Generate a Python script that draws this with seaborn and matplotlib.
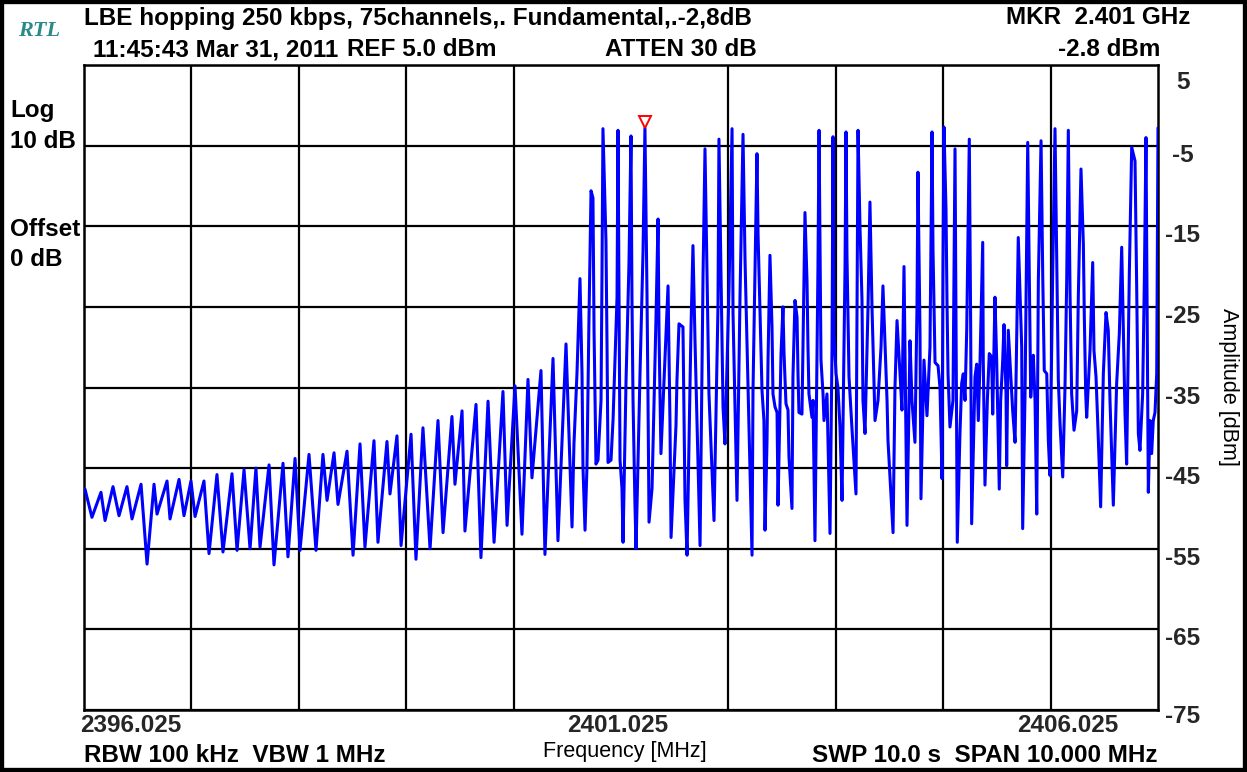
import numpy as np
import pandas as pd
import matplotlib
matplotlib.use("Agg")
import matplotlib.pyplot as plt
import matplotlib.transforms as mtransforms
from matplotlib.ticker import MultipleLocator
from matplotlib.patches import Rectangle
import seaborn as sns

# ---------------- data ----------------
START_MHZ = 2396.025
CENTER_MHZ = 2401.025
STOP_MHZ = 2406.025

# trace, low part of the span (offset from start in kHz, level in dBm)
low_khz = [
    0, 9, 74, 158, 196, 270, 326, 400, 447, 531,
    587, 652, 680, 773, 801, 885, 931, 996, 1034, 1117,
    1164, 1238, 1294, 1378, 1425, 1490, 1546, 1601, 1639, 1723,
    1769, 1853, 1899, 1965, 2011, 2095, 2160, 2225, 2263, 2328,
    2365, 2449, 2505, 2570, 2616, 2700, 2737, 2821, 2849, 2914,
    2952, 3045, 3091, 3156, 3222, 3296, 3343, 3426, 3454, 3520,
    3547, 3650, 3696, 3762, 3818, 3901, 3939, 4013, 4078, 4134,
    4171, 4255, 4292, 4367, 4413, 4488,
]
low_dbm = [
    -47.8, -47.6, -51.1, -48.0, -51.5, -47.3, -50.9, -47.3, -51.3, -47.0,
    -56.9, -47.0, -50.7, -46.6, -51.3, -46.4, -50.9, -46.6, -51.0, -46.6,
    -55.6, -45.8, -55.4, -45.7, -55.2, -45.2, -55.0, -45.0, -54.8, -44.6,
    -57.0, -44.4, -56.0, -43.8, -55.2, -43.3, -55.2, -43.3, -49.0, -43.1,
    -49.5, -42.9, -55.8, -42.0, -54.8, -41.6, -54.2, -41.7, -48.2, -41.0,
    -54.6, -40.8, -56.3, -40.0, -55.0, -39.1, -53.0, -38.6, -47.0, -37.9,
    -52.8, -37.1, -56.1, -36.7, -54.2, -35.5, -52.1, -34.8, -53.2, -34.0,
    -46.2, -32.9, -55.7, -31.4, -54.0, -29.6,
]

# trace, middle part of the span
mid_khz = [
    4544, 4562, 4590, 4618, 4637, 4646, 4665, 4683, 4702, 4721,
    4739, 4749, 4767, 4786, 4814, 4823, 4832, 4860, 4870, 4879,
    4907, 4926, 4963, 4972, 4991, 5009, 5019, 5047, 5074, 5093,
    5102, 5112, 5130, 5140, 5177, 5205, 5223, 5242, 5251, 5261,
    5289, 5326, 5345, 5354, 5372, 5410, 5438, 5456, 5466, 5512,
    5521, 5540, 5577, 5596, 5615, 5652, 5670, 5689, 5736, 5764,
    5782, 5819, 5866, 5903, 5912, 5950, 5968, 6006, 6034, 6043,
    6080, 6108, 6136, 6155, 6183, 6220, 6229, 6266, 6276, 6313,
    6331, 6341, 6359, 6369, 6387, 6406, 6415, 6434, 6453, 6462,
    6490, 6508, 6518, 6536, 6555, 6564, 6592, 6601, 6620, 6639,
    6648, 6657, 6685, 6713, 6732, 6741, 6750, 6778, 6788, 6806,
    6834, 6844, 6853, 6862, 6881, 6890, 6918, 6946, 6965, 6974,
    6983, 7002, 7020, 7039, 7058, 7086, 7095, 7104, 7123, 7151,
    7188, 7207, 7225, 7244, 7253, 7272, 7300, 7318, 7337, 7365,
    7393, 7421, 7439, 7458, 7477, 7486, 7533, 7551, 7570, 7598,
    7616, 7635, 7663, 7682, 7691, 7709, 7737, 7756, 7765, 7784,
    7793, 7821, 7849, 7877, 7896, 7905, 7924, 7952, 7970, 7989,
    7998, 8007, 8026, 8035, 8045, 8063, 8091, 8110, 8131,
]
mid_dbm = [
    -52.3, -42.0, -33.3, -21.5, -33.3, -44.9, -52.7, -44.9, -26.3, -10.6,
    -11.5, -27.9, -44.5, -44.0, -36.6, -21.0, -2.9, -16.8, -30.0, -44.3,
    -44.0, -39.0, -23.8, -3.1, -44.0, -47.5, -54.2, -34.1, -19.8, -3.8,
    -23.8, -36.6, -49.5, -55.0, -33.3, -18.2, -2.8, -23.4, -35.8, -51.7,
    -47.5, -26.3, -14.1, -28.3, -43.2, -31.2, -22.4, -39.3, -53.6, -39.7,
    -34.1, -27.1, -27.5, -49.0, -55.8, -27.5, -17.4, -29.2, -54.6, -20.9,
    -5.4, -35.8, -51.5, -25.0, -4.2, -37.4, -42.0, -22.6, -2.9, -25.8,
    -49.0, -23.8, -3.6, -19.3, -35.0, -55.8, -35.4, -6.0, -16.0, -35.4,
    -39.1, -52.7, -42.0, -31.6, -18.6, -27.5, -35.8, -37.4, -38.1, -49.6,
    -30.8, -25.0, -30.8, -37.0, -37.8, -43.6, -50.0, -33.7, -24.2, -26.3,
    -33.3, -38.1, -38.3, -13.3, -21.9, -30.0, -35.8, -38.7, -36.6, -54.0,
    -20.0, -3.1, -17.4, -31.6, -35.8, -39.1, -35.8, -53.1, -30.0, -3.9,
    -28.3, -33.3, -35.0, -39.9, -49.0, -20.0, -3.3, -18.6, -33.7, -40.2,
    -48.2, -3.1, -15.0, -24.2, -36.6, -40.7, -25.0, -12.0, -25.0, -39.1,
    -36.6, -30.0, -22.4, -29.6, -36.6, -41.6, -53.0, -35.0, -26.7, -33.3,
    -37.8, -20.0, -52.1, -37.0, -29.2, -36.6, -41.8, -25.0, -8.3, -28.3,
    -48.8, -31.6, -38.5, -30.0, -3.3, -17.9, -31.9, -32.3, -35.0, -46.3,
    -20.0, -2.7, -12.8, -24.0, -33.3, -39.9, -36.6, -5.4, -54.2,
]

# trace, high part of the span
high_khz = [
    8156, 8172, 8187, 8203, 8219, 8243, 8256, 8265, 8280, 8296,
    8312, 8327, 8343, 8368, 8373, 8389, 8411, 8429, 8451, 8461,
    8482, 8498, 8522, 8535, 8554, 8566, 8585, 8591, 8606, 8628,
    8647, 8669, 8684, 8699, 8715, 8731, 8740, 8762, 8787, 8802,
    8815, 8833, 8839, 8855, 8871, 8886, 8911, 8927, 8941, 8964,
    8979, 8994, 9019, 9041, 9057, 9072, 9088, 9113, 9134, 9150,
    9165, 9181, 9196, 9218, 9243, 9258, 9283, 9305, 9314, 9327,
    9336, 9367, 9392, 9404, 9423, 9444, 9466, 9491, 9516, 9537,
    9553, 9584, 9615, 9640, 9662, 9677, 9693, 9708, 9733, 9755,
    9786, 9802, 9817, 9832, 9857, 9873, 9888, 9900, 9910, 9926,
    9941, 9956, 9972, 9988, 10000,
]
high_dbm = [
    -40.7, -34.5, -33.3, -36.6, -27.9, -4.2, -27.9, -51.9, -43.2, -33.7,
    -32.1, -39.1, -31.7, -17.0, -31.7, -47.1, -36.6, -30.8, -31.2, -38.3,
    -23.8, -31.7, -47.6, -36.6, -31.7, -27.2, -35.8, -44.7, -27.9, -33.3,
    -37.9, -41.8, -29.2, -16.4, -23.2, -30.0, -52.5, -35.8, -4.6, -21.3,
    -36.2, -31.2, -31.0, -36.6, -50.7, -21.7, -4.4, -21.3, -32.9, -33.3,
    -41.6, -45.9, -21.3, -2.9, -18.8, -34.1, -39.5, -46.1, -35.0, -21.7,
    -3.1, -23.4, -35.8, -40.3, -37.9, -23.8, -7.9, -17.2, -26.3, -35.8,
    -38.7, -30.4, -19.5, -30.4, -33.7, -41.2, -49.8, -33.3, -25.7, -27.9,
    -36.6, -49.6, -34.5, -28.3, -17.6, -27.9, -38.3, -44.5, -20.9, -5.2,
    -6.9, -23.0, -40.7, -42.8, -35.8, -21.7, -4.0, -28.3, -48.0, -39.1,
    -43.2, -39.1, -38.1, -33.3, -2.8,
]
assert len(low_khz) == len(low_dbm)
assert len(mid_khz) == len(mid_dbm)
assert len(high_khz) == len(high_dbm)

marker_offset_khz = 5223
marker_level_dbm = -2.8

y_tick_values = [5, -5, -15, -25, -35, -45, -55, -65, -75]
y_tick_labels = ["5", "-5", "-15", "-25", "-35", "-45", "-55", "-65", "-75"]
x_tick_values = [START_MHZ, CENTER_MHZ, STOP_MHZ]
x_tick_labels = ["2396.025", "2401.025", "2406.025"]

df = pd.DataFrame({
    "freq": START_MHZ + np.array(low_khz + mid_khz + high_khz) / 1000.0,
    "level": low_dbm + mid_dbm + high_dbm,
})

# ---------------- style ----------------
sns.set_style("white")
plt.rcParams["font.family"] = ["Liberation Sans", "DejaVu Sans"]

W, H = 1247, 772
fig = plt.figure(figsize=(W / 100, H / 100), dpi=100)
fig.patch.set_facecolor("white")

L, R, T, B = 84, 1158, 65, 710
ax = fig.add_axes([L / W, 1 - B / H, (R - L) / W, (B - T) / H])
ax.set_facecolor("white")

sns.lineplot(data=df, x="freq", y="level", ax=ax, color="#0000ff",
             linewidth=2.2, sort=False, estimator=None, legend=False, zorder=3)

# marker triangle (offset above the peak)
mk_off = mtransforms.ScaledTranslation(0, 6 / 100, fig.dpi_scale_trans)
ax.plot([START_MHZ + marker_offset_khz / 1000.0], [marker_level_dbm],
        marker="v", ms=8.5, mfc="none", mec="red", mew=1.4, ls="none",
        transform=ax.transData + mk_off, zorder=4, clip_on=False)

ax.set_xlim(START_MHZ, STOP_MHZ)
ax.set_ylim(-75, 5)
ax.set_xlabel("")
ax.set_ylabel("")

# grid: 10 divisions each way
ax.xaxis.set_minor_locator(MultipleLocator(1.0, offset=0.025))
ax.set_xticks(x_tick_values, x_tick_labels)
ax.set_yticks(y_tick_values, y_tick_labels)
ax.grid(False)
ax.grid(True, axis="x", which="minor", color="black", linewidth=1.6)
ax.grid(True, axis="y", which="major", color="black", linewidth=1.6)
ax.set_axisbelow(True)
for sp in ax.spines.values():
    sp.set_color("black")
    sp.set_linewidth(1.8)

FS = 17.5
ax.tick_params(which="both", length=0)
ax.yaxis.tick_right()
ax.tick_params(axis="y", pad=18, labelsize=FS)
ax.tick_params(axis="x", pad=3, labelsize=FS)

for i, lab in enumerate(ax.get_yticklabels()):
    lab.set_fontweight("bold")
    lab.set_horizontalalignment("center")
    dy = -15 if i == 0 else (-4 if i == len(y_tick_values) - 1 else -7)
    lab.set_transform(lab.get_transform() +
                      mtransforms.ScaledTranslation(0, dy / 100, fig.dpi_scale_trans))

x_has = ["left", "center", "right"]
x_dx = [-4, -3, -40]
for lab, ha, dx in zip(ax.get_xticklabels(), x_has, x_dx):
    lab.set_fontweight("bold")
    lab.set_horizontalalignment(ha)
    lab.set_transform(lab.get_transform() +
                      mtransforms.ScaledTranslation(dx / 100, 0, fig.dpi_scale_trans))


def ftext(x, y, s, ha="left", va="center", **kw):
    fig.text(x / W, 1 - y / H, s, ha=ha, va=va, **kw)


bold = dict(fontsize=FS, fontweight="bold", color="black")
ftext(18, 31, "RTL", fontsize=16, style="italic", fontweight="bold",
      color="#2a8a8a", family=["Liberation Serif", "DejaVu Serif"])
ftext(84, 18, "LBE hopping 250 kbps, 75channels,. Fundamental,.-2,8dB", **bold)
ftext(1190, 18, "MKR  2.401 GHz", ha="right", **bold)
ftext(93, 50, "11:45:43 Mar 31, 2011", **bold)
ftext(347, 50, "REF 5.0 dBm", **bold)
ftext(605, 50, "ATTEN 30 dB", **bold)
ftext(1160, 50, "-2.8 dBm", ha="right", **bold)
ftext(10, 110, "Log", **bold)
ftext(10, 141, "10 dB", **bold)
ftext(10, 229, "Offset", **bold)
ftext(10, 259, "0 dB", **bold)
ftext(84, 755, "RBW 100 kHz  VBW 1 MHz", **bold)
ftext(1158, 755, "SWP 10.0 s  SPAN 10.000 MHz", ha="right", **bold)
ftext(625, 752, "Frequency [MHz]", ha="center", fontsize=15.5, color="black")
ftext(1228, 387, "Amplitude [dBm]", ha="center", rotation=-90, fontsize=15.5,
      color="black")

# outer frame
fig.patches.append(Rectangle((0, 0), 1, 1, transform=fig.transFigure,
                             fill=False, edgecolor="black", linewidth=6))

fig.savefig("out.png", dpi=100, facecolor="white")
